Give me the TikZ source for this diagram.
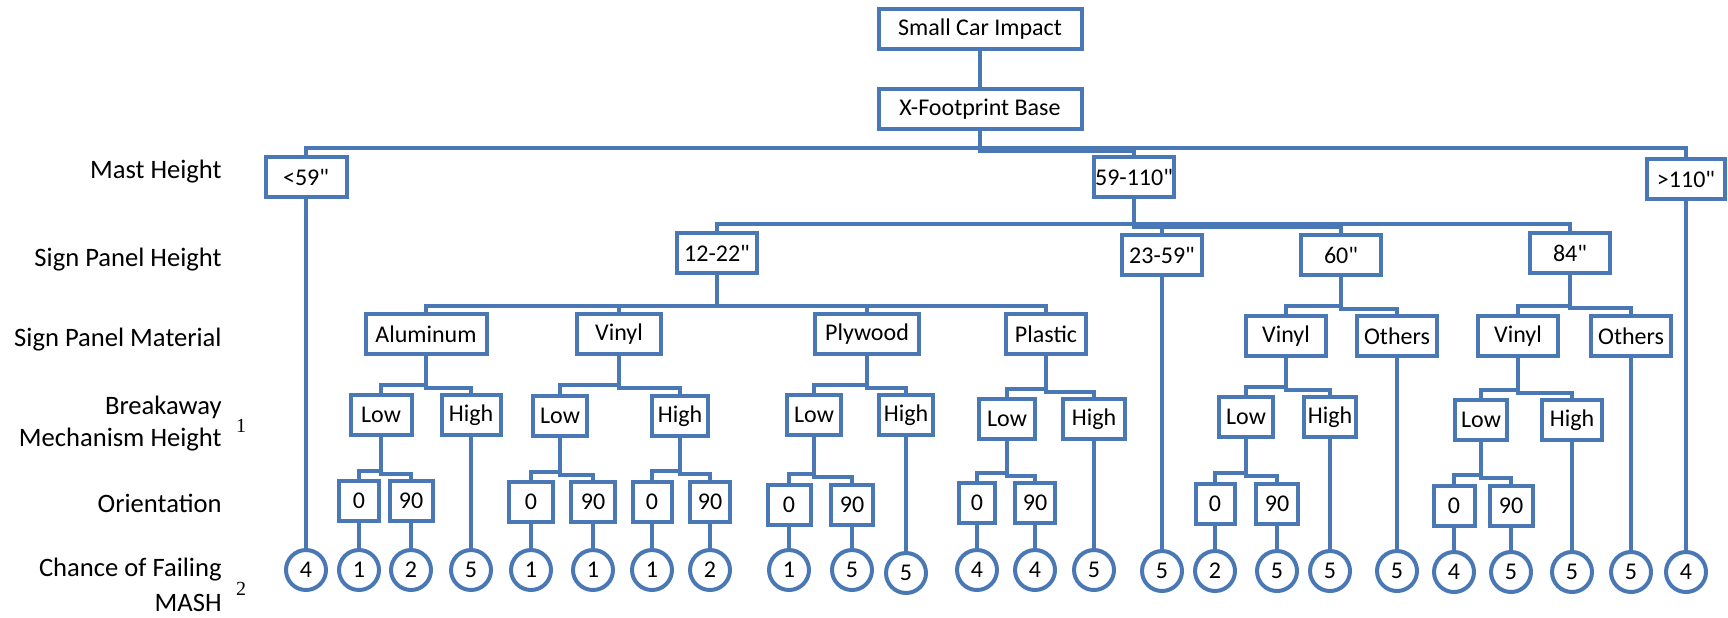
\documentclass[tikz,border=0pt]{standalone}
\usepackage{fontspec}
\setmainfont{Carlito}[Ligatures=TeXOff]
\newfontfamily\supfont{Liberation Serif}
\definecolor{bl}{RGB}{74,120,180}
\newcommand\mkelbow[3]{\draw[conn] (#1.south) -- (#1.south |- 0,#3) -| (#2.north);}
\newcommand\mkdrop[2]{\draw[conn] (#1.south) -- (#2.north);}
\begin{document}
\begin{tikzpicture}[x=0.5pt,y=-0.5pt,
  box/.style={draw=bl, line width=2pt, fill=white, minimum height=20pt, inner sep=0pt, font=\fontsize{12}{14}\selectfont},
  bw/.style={minimum width={(#1)*0.5pt-2pt}},
  leaf/.style={circle, draw=bl, line width=2pt, fill=white, minimum size=20pt, inner sep=0pt, font=\fontsize{12}{14}\selectfont},
  conn/.style={draw=bl, line width=2pt},
  lab/.style={anchor=east, align=right, inner sep=0pt},
  supnum/.style={font=\supfont\fontsize{10}{12}\selectfont, inner sep=0pt}]
\useasboundingbox (0,0) rectangle (1728,617);

% left labels
\node[lab, font=\fontsize{13.3}{16}\selectfont] (l1) at (222,172) {Mast Height};
\node[lab, font=\fontsize{13.3}{16}\selectfont] (l2) at (222,260) {Sign Panel Height};
\node[lab, font=\fontsize{13.3}{16}\selectfont] (l3) at (222,340) {Sign Panel Material};
\node[lab, font=\fontsize{13.3}{16}\selectfont] (l4) at (222,424) {Breakaway\\Mechanism Height};
\node[lab, font=\fontsize{13.3}{16}\selectfont] (l5) at (222,503) {Orientation};
\node[lab, font=\fontsize{13.3}{17.5}\selectfont] (l6) at (222,585) {Chance of Failing\\MASH};
\node[supnum] (s1) at (241,426) {1};
\node[supnum] (s2) at (241,589) {2};

% top
\node[box,bw=207] (root) at (980,29) {Small Car Impact};
\node[box,bw=207] (xfp) at (980,109) {X-Footprint Base};
% mast height
\node[box,bw=85] (m1) at (306,177) {<59"};
\node[box,bw=84] (m2) at (1134,177) {59-110"};
\node[box,bw=82] (m3) at (1686,179) {>110"};
% sign panel height
\node[box,bw=84] (h1) at (717,253) {12-22"};
\node[box,bw=84] (h2) at (1162,255) {23-59"};
\node[box,bw=84] (h3) at (1341,255) {60"};
\node[box,bw=84] (h4) at (1570,253) {84"};
% materials
\node[box,bw=125] (ma) at (426,334) {Aluminum};
\node[box,bw=88] (mv) at (619,334) {Vinyl};
\node[box,bw=108] (mp) at (867,334) {Plywood};
\node[box,bw=84] (mpl) at (1046,334) {Plastic};
\node[box,bw=84] (mv6) at (1286,336) {Vinyl};
\node[box,bw=84] (mo6) at (1397,336) {Others};
\node[box,bw=84] (mv8) at (1518,336) {Vinyl};
\node[box,bw=84] (mo8) at (1631,336) {Others};
% breakaway height
\node[box,bw=65] (aL) at (381,415) {Low};
\node[box,bw=63] (aH) at (471,415) {High};
\node[box,bw=58] (vL) at (560,416) {Low};
\node[box,bw=60] (vH) at (680,416) {High};
\node[box,bw=58] (pL) at (814,415) {Low};
\node[box,bw=58] (pH) at (906,415) {High};
\node[box,bw=60] (plL) at (1007,419) {Low};
\node[box,bw=66] (plH) at (1094,419) {High};
\node[box,bw=58] (sL) at (1246,417) {Low};
\node[box,bw=56] (sH) at (1330,417) {High};
\node[box,bw=56] (eL) at (1481,420) {Low};
\node[box,bw=64] (eH) at (1572,420) {High};
% orientation
\node[box,bw=44] (a0) at (359,501) {0};
\node[box,bw=47] (a9) at (411,501) {90};
\node[box,bw=48] (vL0) at (531,502) {0};
\node[box,bw=48] (vL9) at (593,502) {90};
\node[box,bw=43] (vH0) at (652,502) {0};
\node[box,bw=44] (vH9) at (710,502) {90};
\node[box,bw=47] (p0) at (789,505) {0};
\node[box,bw=46] (p9) at (852,505) {90};
\node[box,bw=40] (pl0) at (977,503) {0};
\node[box,bw=44] (pl9) at (1035,503) {90};
\node[box,bw=43] (s0) at (1215,504) {0};
\node[box,bw=46] (s9) at (1277,504) {90};
\node[box,bw=45] (e0) at (1454,506) {0};
\node[box,bw=47] (e9) at (1511,506) {90};
% outcomes
\node[leaf] (c1) at (306,570) {4};
\node[leaf] (c2) at (359,570) {1};
\node[leaf] (c3) at (411,570) {2};
\node[leaf] (c4) at (471,570) {5};
\node[leaf] (c5) at (531,570) {1};
\node[leaf] (c6) at (593,570) {1};
\node[leaf] (c7) at (652,570) {1};
\node[leaf] (c8) at (710,570) {2};
\node[leaf] (c9) at (789,570) {1};
\node[leaf] (c10) at (852,570) {5};
\node[leaf] (c11) at (906,573) {5};
\node[leaf] (c12) at (977,570) {4};
\node[leaf] (c13) at (1035,570) {4};
\node[leaf] (c14) at (1094,570) {5};
\node[leaf] (c15) at (1162,571) {5};
\node[leaf] (c16) at (1215,571) {2};
\node[leaf] (c17) at (1277,571) {5};
\node[leaf] (c18) at (1330,571) {5};
\node[leaf] (c19) at (1397,571) {5};
\node[leaf] (c20) at (1454,572) {4};
\node[leaf] (c21) at (1511,572) {5};
\node[leaf] (c22) at (1572,572) {5};
\node[leaf] (c23) at (1631,572) {5};
\node[leaf] (c24) at (1686,572) {4};

% connectors
\mkdrop{root}{xfp}
\mkelbow{xfp}{m1}{148}
\mkelbow{xfp}{m3}{148}
\mkelbow{xfp}{m2}{151}
\mkelbow{m2}{h1}{224}
\mkelbow{m2}{h4}{224}
\mkelbow{m2}{h2}{227}
\mkelbow{m2}{h3}{227}
\mkelbow{h1}{ma}{306}
\mkelbow{h1}{mv}{306}
\mkelbow{h1}{mp}{306}
\mkelbow{h1}{mpl}{306}
\mkelbow{h3}{mv6}{306}
\mkelbow{h3}{mo6}{309}
\mkelbow{h4}{mv8}{306}
\mkelbow{h4}{mo8}{308}
\mkelbow{ma}{aL}{385}
\mkelbow{ma}{aH}{388}
\mkelbow{mv}{vL}{385}
\mkelbow{mv}{vH}{388}
\mkelbow{mp}{pL}{385}
\mkelbow{mp}{pH}{388}
\mkelbow{mpl}{plL}{389}
\mkelbow{mpl}{plH}{392}
\mkelbow{mv6}{sL}{387}
\mkelbow{mv6}{sH}{390}
\mkelbow{mv8}{eL}{390}
\mkelbow{mv8}{eH}{393}
\mkelbow{aL}{a0}{471}
\mkelbow{aL}{a9}{474}
\mkelbow{vL}{vL0}{472}
\mkelbow{vL}{vL9}{475}
\mkelbow{vH}{vH0}{471}
\mkelbow{vH}{vH9}{474}
\mkelbow{pL}{p0}{474}
\mkelbow{pL}{p9}{477}
\mkelbow{plL}{pl0}{473}
\mkelbow{plL}{pl9}{476}
\mkelbow{sL}{s0}{473}
\mkelbow{sL}{s9}{476}
\mkelbow{eL}{e0}{475}
\mkelbow{eL}{e9}{478}
% direct drops to outcomes
\mkdrop{m1}{c1}
\mkdrop{a0}{c2}
\mkdrop{a9}{c3}
\mkdrop{aH}{c4}
\mkdrop{vL0}{c5}
\mkdrop{vL9}{c6}
\mkdrop{vH0}{c7}
\mkdrop{vH9}{c8}
\mkdrop{p0}{c9}
\mkdrop{p9}{c10}
\mkdrop{pH}{c11}
\mkdrop{pl0}{c12}
\mkdrop{pl9}{c13}
\mkdrop{plH}{c14}
\mkdrop{h2}{c15}
\mkdrop{s0}{c16}
\mkdrop{s9}{c17}
\mkdrop{sH}{c18}
\mkdrop{mo6}{c19}
\mkdrop{e0}{c20}
\mkdrop{e9}{c21}
\mkdrop{eH}{c22}
\mkdrop{mo8}{c23}
\mkdrop{m3}{c24}
\end{tikzpicture}
\end{document}
